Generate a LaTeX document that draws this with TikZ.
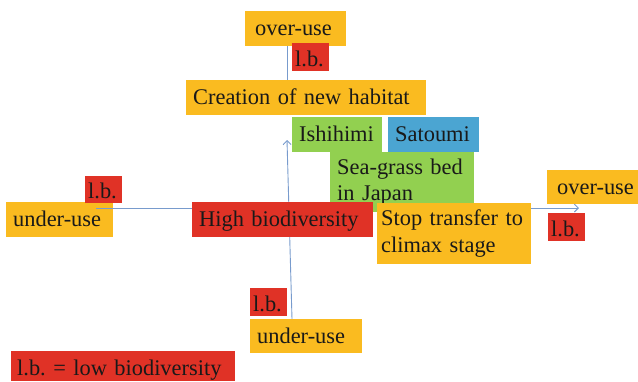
\documentclass[tikz,border=0pt]{standalone}
\usepackage{fontspec}
\setmainfont{Liberation Serif}
\usetikzlibrary{arrows.meta}

\definecolor{boxorange}{RGB}{250,187,32}
\definecolor{boxred}{RGB}{224,50,38}
\definecolor{boxgreen}{RGB}{146,208,80}
\definecolor{boxblue}{RGB}{75,165,210}
\definecolor{axisblue}{RGB}{120,155,205}
\newcommand\picfont{\fontsize{22.4}{26.5}\selectfont\frenchspacing}

\begin{document}
\begin{tikzpicture}[x=1pt,y=-1pt,
  tag/.style={anchor=north west, inner ysep=0pt, inner xsep=7pt, align=left, font=\picfont, text=black!90},
  oneline/.style={text height=15.5pt, text depth=1.5pt},
  orangebox/.style={tag, oneline, fill=boxorange},
  redbox/.style={tag, oneline, fill=boxred},
  greenbox/.style={tag, oneline, fill=boxgreen},
  bluebox/.style={tag, oneline, fill=boxblue},
  lbbox/.style={redbox, inner xsep=3pt, text width=31pt, minimum height=28pt, text height=18pt, text depth=0pt},
  axis/.style={axisblue, line width=0.9pt}]

\useasboundingbox (0,0) rectangle (638,381);

% left end of the horizontal axis
\node[orangebox, text width=93pt, minimum height=35pt] (uleft) at (6,202) {under-use};

% axes
\coordinate (htip) at (579,208);
\coordinate (vtip) at (287,140);
\node[orangebox, text width=98pt, minimum height=34pt] (ubot) at (250,319) {under-use};
\node[orangebox, inner xsep=10pt, text width=81pt, minimum height=35pt] (otop) at (245,11) {over-use};
\node[orangebox, text width=226pt, minimum height=35pt] (creat) at (186,80) {Creation of new habitat};

\draw[axis, -{Straight Barb[length=4pt,width=8pt]}] ([xshift=90pt,yshift=-6pt]uleft.north west) -- (htip);
\draw[axis, -{Straight Barb[length=4pt,width=8pt]}] ([xshift=42pt]ubot.north west) -- (vtip);
\draw[axis] ([xshift=42pt]otop.south west) -- ([xshift=101pt]creat.north west);

% boxes in the middle
\node[greenbox, text width=76pt, minimum height=35pt] (ishi) at (292,117) {Ishihimi};
\node[bluebox, text width=77pt, minimum height=35pt] (sato) at (388,117) {Satoumi};
\node[tag, fill=boxgreen, text width=130pt, minimum height=60pt] (seag) at (330,152) {Sea-grass bed\\in Japan};
\node[redbox, text width=167pt, minimum height=35pt] (high) at (192,202) {High biodiversity};
\node[tag, fill=boxorange, inner xsep=4pt, text width=146pt, minimum height=61pt] (stop) at (377,203) {Stop transfer to\\climax stage};

% right end
\node[orangebox, inner xsep=10pt, text width=80pt, minimum height=34pt] (oright) at (547,170) {over-use};

% low biodiversity marks
\node[lbbox] (lbtop) at (292,43) {l.b.};
\node[lbbox, minimum height=27pt] (lbleft) at (85,176) {l.b.};
\node[lbbox] (lbright) at (548,213) {l.b.};
\node[lbbox] (lbbot) at (250,288) {l.b.};

% legend
\node[redbox, inner xsep=6pt, text width=212pt, minimum height=30pt, text height=19pt, text depth=0pt] (legend) at (11,351) {l.b. = low biodiversity};

\end{tikzpicture}
\end{document}
